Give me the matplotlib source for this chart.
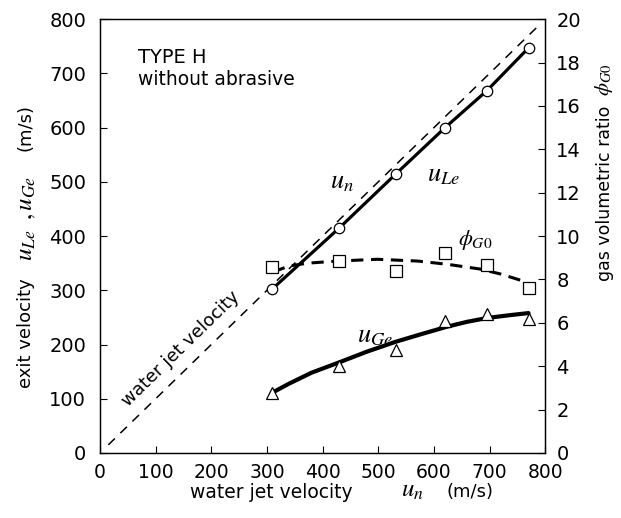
import matplotlib.pyplot as plt

plt.rcParams['font.family'] = 'DejaVu Sans'
plt.rcParams['mathtext.fontset'] = 'stix'

# measured points
un = [309, 430, 531, 620, 695, 770]
u_le = [302, 415, 514, 600, 668, 747]
u_ge = [110, 160, 190, 243, 256, 247]
phi_g0 = [8.57, 8.85, 8.40, 9.20, 8.67, 7.60]

# trend curves
ge_fit_x = [311, 340, 380, 432, 480, 531, 580, 624, 660, 696, 735, 770]
ge_fit_y = [112, 128, 148, 168, 187, 205, 220, 233, 242, 249, 254, 258]
phi_fit_x = [311, 340, 372, 428, 498, 570, 624, 683, 720, 755, 768]
phi_fit_y = [8.35, 8.62, 8.75, 8.85, 8.93, 8.85, 8.70, 8.48, 8.25, 7.97, 7.88]

# water jet velocity reference line (u = u_n)
jet = [15, 785]

W, H = 621, 518
fig = plt.figure(figsize=(W / 100, H / 100), dpi=100)
ax = fig.add_axes([0.161, 0.1255, 0.717, 0.8375])
ax2 = ax.twinx()

ax.plot(jet, jet, color='black', lw=1.1, ls=(0, (6, 5)))
ax.plot(un, u_le, color='black', lw=2.3, marker='o', ms=7.5,
        mfc='white', mec='black', mew=0.9, zorder=3)
ax.plot(ge_fit_x, ge_fit_y, color='black', lw=3.0, solid_capstyle='round')
ax.plot(un, u_ge, ls='none', marker='^', ms=8.5, mfc='white',
        mec='black', mew=0.9, zorder=3)

ax2.plot(phi_fit_x, phi_fit_y, color='black', lw=2.2, ls=(0, (4, 2.5)))
ax2.plot(un, phi_g0, ls='none', marker='s', ms=8, mfc='white',
         mec='black', mew=0.9, zorder=3)

ax.set_xlim(0, 800)
ax.set_ylim(0, 800)
ax2.set_ylim(0, 20)
ax.set_xticks(range(0, 801, 100))
ax.set_yticks(range(0, 801, 100))
ax2.set_yticks(range(0, 21, 2))

ax.tick_params(axis='both', direction='in', length=5, width=0.8,
               labelsize=14, pad=10)
ax.tick_params(axis='x', labelsize=13.5, pad=7)
ax2.tick_params(axis='y', direction='in', length=5, width=0.8,
                labelsize=14, pad=8)
for a in (ax, ax2):
    for s in a.spines.values():
        s.set_linewidth(0.9)


def px(x, y):
    return x / W, 1 - y / H


# axis titles, built from pieces so the symbols can be set larger
fig.text(*px(271, 492), 'water jet velocity', ha='center', va='center', fontsize=13.5)
fig.text(*px(412, 490), r'$u_n$', ha='center', va='center', fontsize=18)
fig.text(*px(470, 492), '(m/s)', ha='center', va='center', fontsize=13)

fig.text(*px(26, 333), 'exit velocity', ha='center', va='center', fontsize=13,
         rotation=90)
fig.text(*px(26, 245), r'$u_{Le}$', ha='center', va='center', fontsize=18,
         rotation=90)
fig.text(*px(26, 198), r'$,u_{Ge}$', ha='center', va='center', fontsize=18,
         rotation=90)
fig.text(*px(26, 127), '(m/s)', ha='center', va='center', fontsize=13,
         rotation=90)

fig.text(*px(605, 193), 'gas volumetric ratio', ha='center', va='center',
         fontsize=12.5, rotation=90)
fig.text(*px(604, 80), r'$\phi_{G0}$', ha='center', va='center', fontsize=15,
         rotation=90)

ax.text(68, 730, 'TYPE H', fontsize=14, va='center')
ax.text(68, 688, 'without abrasive', fontsize=13.5, va='center')
ax.text(146, 192, 'water jet velocity', fontsize=13, rotation=44.3,
        ha='center', va='center', rotation_mode='anchor')

ax.text(435, 500, r'$u_n$', fontsize=19, ha='center', va='center')
ax.text(617, 514, r'$u_{Le}$', fontsize=19, ha='center', va='center')
ax.text(674, 393, r'$\phi_{G0}$', fontsize=16, ha='center', va='center')
ax.text(495, 217, r'$u_{Ge}$', fontsize=19, ha='center', va='center')

fig.savefig('out.png', dpi=100)
